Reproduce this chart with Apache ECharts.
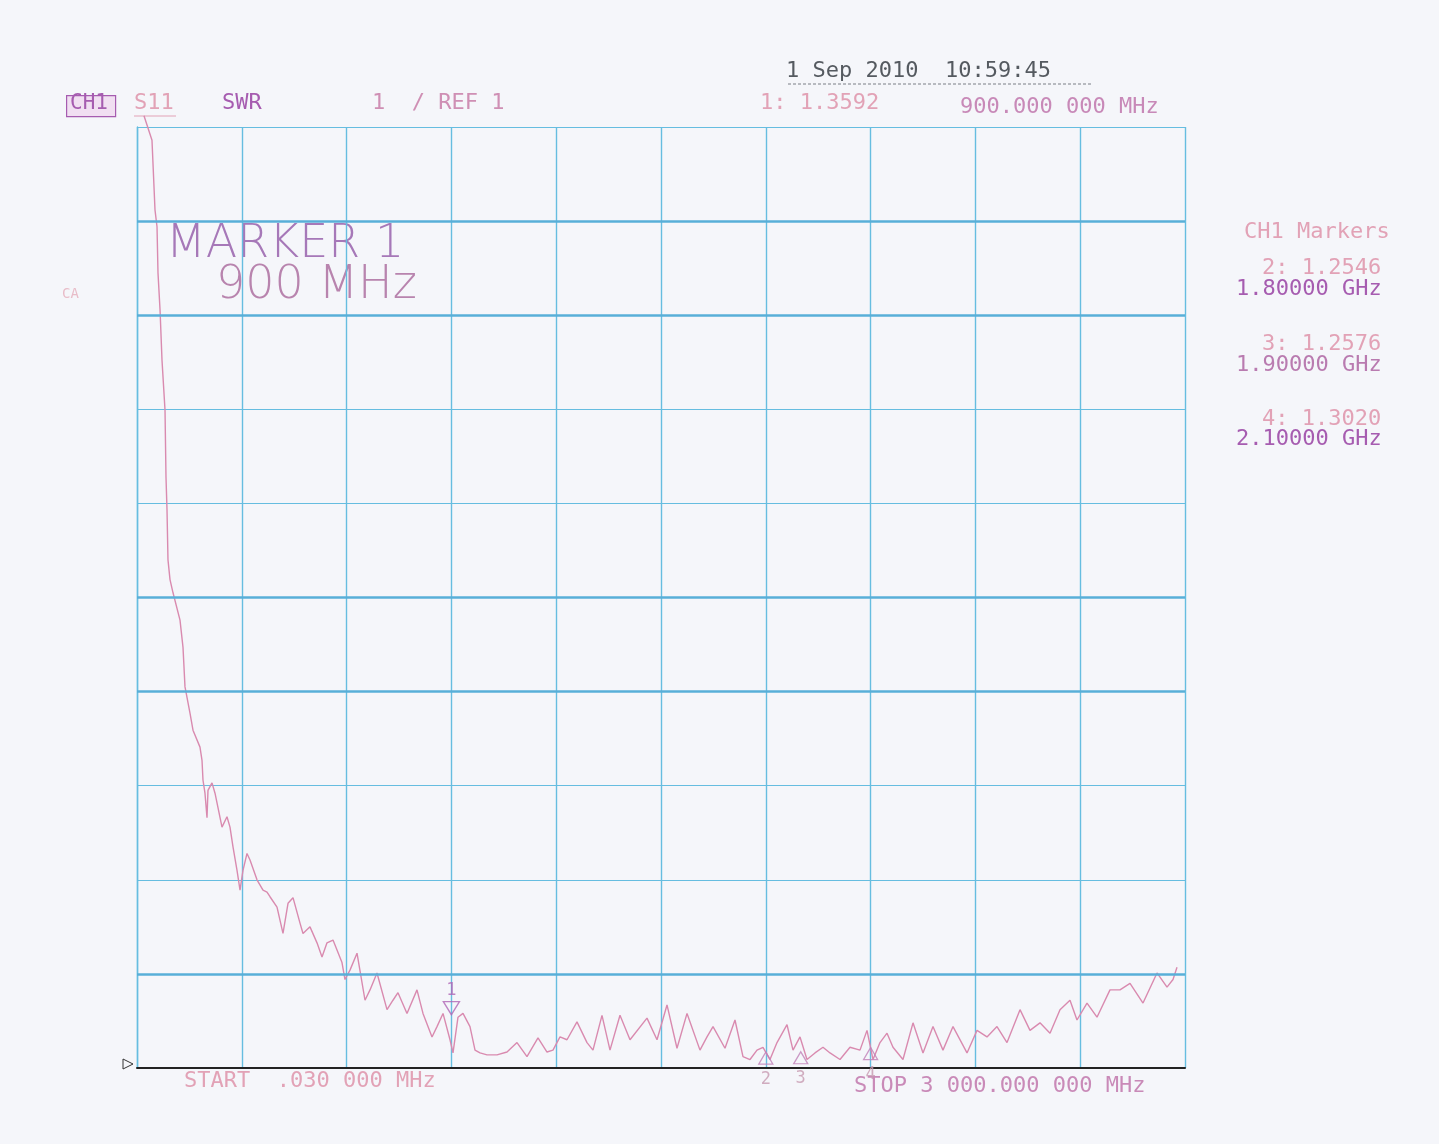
<!DOCTYPE html>
<html>
<head>
<meta charset="utf-8">
<script src="https://cdn.jsdelivr.net/npm/echarts@6/dist/echarts.min.js"></script>
<style>
html,body{margin:0;padding:0;background:#f5f6fa;}
#chart{width:1439px;height:1144px;}
</style>
</head>
<body>
<div id="chart"></div>
<script>
// ---- data (frequency in MHz, SWR) ----
const freqMHz = [20, 42.9, 51.5, 57.3, 60.1, 65.9, 71.6, 80.2, 83.0, 85.9, 88.7, 94.5, 103.1, 123.1, 131.7, 137.4, 151.7, 160.3, 180.3, 186.1, 188.9, 194.6, 200.4, 203.2, 214.7, 223.3, 243.3, 257.6, 266.2, 274.8, 286.3, 294.9, 303.4, 314.9, 323.5, 343.5, 360.7, 372.1, 380.7, 400.8, 417.9, 432.3, 446.6, 466.6, 475.2, 495.2, 515.3, 529.6, 543.9, 561.1, 586.8, 595.4, 609.7, 629.8, 652.7, 667.0, 687.0, 715.7, 732.8, 747.1, 772.9, 801.5, 818.7, 844.5, 858.8, 876.0, 896.0, 904.6, 918.9, 933.2, 953.2, 967.6, 981.9, 1001.9, 1030.5, 1059.2, 1087.8, 1116.4, 1147.9, 1173.7, 1190.8, 1210.9, 1230.9, 1259.5, 1288.2, 1305.3, 1331.1, 1354.0, 1382.6, 1411.3, 1459.9, 1488.6, 1517.2, 1545.8, 1574.5, 1611.6, 1631.7, 1648.9, 1683.2, 1711.8, 1734.7, 1754.8, 1774.8, 1792.0, 1812.0, 1832.1, 1860.7, 1877.9, 1897.9, 1917.9, 1940.8, 1963.7, 1983.8, 2012.4, 2041.0, 2069.7, 2089.7, 2106.9, 2126.9, 2147.0, 2164.1, 2192.7, 2221.4, 2250.0, 2278.6, 2307.2, 2335.9, 2376.0, 2404.6, 2433.2, 2461.8, 2490.5, 2527.7, 2556.3, 2584.9, 2613.6, 2642.2, 2670.8, 2690.8, 2719.5, 2748.1, 2785.3, 2813.9, 2842.6, 2879.8, 2919.9, 2948.5, 2965.7, 2977.1];
const swr = [11.12, 10.86, 10.12, 9.94, 9.45, 9.06, 8.52, 7.99, 7.28, 6.93, 6.40, 6.19, 6.05, 5.76, 5.47, 5.05, 4.77, 4.59, 4.41, 4.27, 4.06, 3.92, 3.66, 3.95, 4.03, 3.92, 3.56, 3.67, 3.56, 3.35, 3.10, 2.89, 3.10, 3.28, 3.21, 3.00, 2.89, 2.87, 2.82, 2.71, 2.43, 2.75, 2.81, 2.54, 2.43, 2.50, 2.33, 2.18, 2.33, 2.36, 2.12, 1.94, 2.04, 2.22, 1.72, 1.83, 2.01, 1.62, 1.72, 1.80, 1.58, 1.83, 1.58, 1.33, 1.44, 1.58, 1.30, 1.16, 1.54, 1.58, 1.44, 1.19, 1.16, 1.14, 1.14, 1.17, 1.27, 1.12, 1.32, 1.17, 1.19, 1.33, 1.30, 1.49, 1.27, 1.19, 1.56, 1.19, 1.56, 1.30, 1.53, 1.30, 1.67, 1.21, 1.58, 1.19, 1.33, 1.44, 1.21, 1.51, 1.12, 1.09, 1.19, 1.22, 1.09, 1.27, 1.46, 1.19, 1.33, 1.09, 1.16, 1.22, 1.16, 1.09, 1.22, 1.19, 1.40, 1.09, 1.27, 1.37, 1.22, 1.09, 1.48, 1.16, 1.44, 1.19, 1.44, 1.16, 1.40, 1.33, 1.44, 1.27, 1.62, 1.40, 1.48, 1.37, 1.62, 1.72, 1.51, 1.69, 1.54, 1.83, 1.83, 1.90, 1.69, 2.01, 1.86, 1.94, 2.07];

const markerNames = ['1', '2', '3', '4'];
const markerFreq = [900, 1800, 1900, 2100];
const markerSwr = [1.3592, 1.2546, 1.2576, 1.3020];
const markerFreqText = ['900.000 000 MHz', '1.80000 GHz', '1.90000 GHz', '2.10000 GHz'];

const xMin = 0, xMax = 3000, xStep = 300;
const yMin = 1, yMax = 11, yStep = 1;
const heavyGridSwr = [2, 5, 6, 9, 10];

const headerTexts = ['CH1', 'S11', 'SWR', '1  / REF 1', '1: 1.3592', '900.000 000 MHz', '1 Sep 2010  10:59:45'];
const footerTexts = ['START  .030 000 MHz', 'STOP 3 000.000 000 MHz'];
const bigTexts = ['MARKER 1', '900 MHz'];

// ---- chart ----
const chart = echarts.init(document.getElementById('chart'));
const mono = '"DejaVu Sans Mono", "Liberation Mono", monospace';
const pink = '#e2a2b6';
const purple = '#a65cb0';
const gridBlue = '#66bde0';

function txt(s, left, top, color, size, extra) {
  return Object.assign({
    type: 'text', left: left, top: top,
    style: { text: s, fill: color, font: (size || 22) + 'px ' + mono }
  }, extra || {});
}

const graphics = [
  // CH1 boxed
  { type: 'rect', left: 66, top: 95, shape: { width: 49, height: 21 }, style: { fill: '#f1dff2', stroke: purple, lineWidth: 1.2 } },
  txt(headerTexts[0], 70, 93, purple, 21),
  txt(headerTexts[1], 134, 92, pink, 22),
  { type: 'line', shape: { x1: 134, y1: 116, x2: 176, y2: 116 }, style: { stroke: pink, lineWidth: 1 } },
  txt(headerTexts[2], 222, 92, purple, 22),
  txt(headerTexts[3], 372, 92, '#cf8fb4', 22),
  txt(headerTexts[4], 760, 92, pink, 22),
  txt(headerTexts[5], 960, 96, '#c889b8', 22),
  txt(headerTexts[6], 786, 60, '#555a60', 22),
  { type: 'line', shape: { x1: 788, y1: 84, x2: 1092, y2: 84 }, style: { stroke: '#7a7f86', lineWidth: 1, lineDash: [3, 2] } },
  txt('CA', 62, 287, '#e8bcc8', 14),
  { type: 'text', left: 166, top: 222, style: { text: bigTexts[0], fill: '#a678b8', font: '200 46px "DejaVu Sans", sans-serif' } },
  { type: 'text', left: 216, top: 263, style: { text: bigTexts[1], fill: '#b884ae', font: '200 46px "DejaVu Sans", sans-serif' } },
  txt(footerTexts[0], 184, 1070, pink, 22),
  txt(footerTexts[1], 854, 1075, '#c98ab8', 22),
  txt('CH1 Markers', 1244, 221, pink, 22),
  txt(markerNames[1] + ': ' + markerSwr[1].toFixed(4), 1262, 257, pink, 22),
  txt(markerFreqText[1], 1236, 278, purple, 22),
  txt(markerNames[2] + ': ' + markerSwr[2].toFixed(4), 1262, 333, pink, 22),
  txt(markerFreqText[2], 1236, 354, '#b97bb0', 22),
  txt(markerNames[3] + ': ' + markerSwr[3].toFixed(4), 1262, 408, pink, 22),
  txt(markerFreqText[3], 1236, 428, purple, 22),
  // reference-position arrow at left of baseline
  { type: 'polygon', shape: { points: [[123, 1059], [123, 1069], [133, 1064]] }, style: { fill: 'none', stroke: '#333', lineWidth: 1 } }
];

const option = {
  backgroundColor: '#f5f6fa',
  animation: false,
  grid: { left: 137, right: 254, top: 127, bottom: 76, containLabel: false },
  xAxis: {
    type: 'value', min: xMin, max: xMax, interval: xStep,
    axisLabel: { show: false }, axisTick: { show: false },
    axisLine: { show: true, onZero: false, lineStyle: { color: '#222', width: 2 } },
    splitLine: { show: true, lineStyle: { color: gridBlue, width: 1.4 } }
  },
  yAxis: {
    type: 'value', min: yMin, max: yMax, interval: yStep,
    axisLabel: { show: false }, axisTick: { show: false },
    axisLine: { show: true, lineStyle: { color: gridBlue, width: 1.4 } },
    splitLine: { show: true, lineStyle: { color: gridBlue, width: 1.2 } }
  },
  graphic: graphics,
  series: [
    {
      type: 'line',
      data: freqMHz.map((f, i) => [f, swr[i]]),
      showSymbol: false,
      clip: false,
      lineStyle: { color: '#d98aaf', width: 1.4 },
      markLine: {
        silent: true, symbol: 'none', label: { show: false },
        lineStyle: { color: '#58afd8', width: 2.6, type: 'solid' },
        data: heavyGridSwr.map(v => ({ yAxis: v }))
      },
      z: 3
    },
    {
      type: 'scatter',
      data: [[markerFreq[0], markerSwr[0]]],
      symbol: 'triangle', symbolRotate: 180, symbolSize: [16, 13], symbolOffset: [0, -26],
      itemStyle: { color: 'rgba(0,0,0,0)', borderColor: '#b065b5', borderWidth: 1.4 },
      label: { show: true, formatter: markerNames[0], position: 'top', distance: 2, color: '#b065b5', fontFamily: mono, fontSize: 17 },
      z: 4
    },
    {
      type: 'scatter',
      data: markerFreq.slice(1).map((f, i) => ({ value: [f, markerSwr[i + 1]], name: markerNames[i + 1] })),
      symbol: 'triangle', symbolSize: [14, 12], symbolOffset: [0, 14],
      itemStyle: { color: 'rgba(0,0,0,0)', borderColor: '#c080b8', borderWidth: 1.3 },
      label: { show: true, formatter: p => p.name, position: 'bottom', distance: 6, color: '#c79ab0', fontFamily: mono, fontSize: 17 },
      z: 4
    }
  ]
};
chart.setOption(option);
</script>
</body>
</html>
